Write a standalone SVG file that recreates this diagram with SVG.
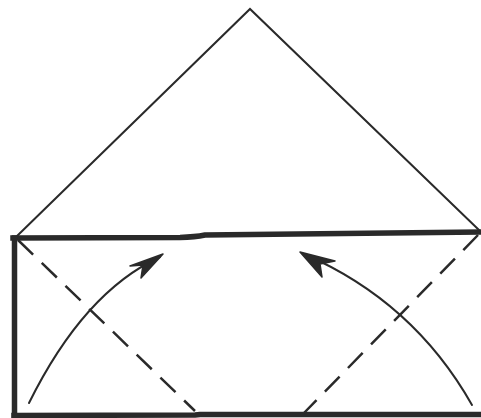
<svg xmlns="http://www.w3.org/2000/svg" width="481" height="418" viewBox="0 0 481 418">
<style>
.thin{fill:none;stroke:#2a2a2a;stroke-width:2;stroke-linejoin:miter}
.thick{fill:none;stroke:#2a2a2a;stroke-width:5.5;stroke-linecap:square;stroke-linejoin:round}
.dash{fill:none;stroke:#2a2a2a;stroke-width:2.5;stroke-dasharray:21 12}
.arc{fill:none;stroke:#2a2a2a;stroke-width:2;stroke-linecap:round}
.head{fill:#2a2a2a;stroke:#2a2a2a;stroke-width:1.5;stroke-linejoin:round}
</style>
<rect width="481" height="418" fill="#fff"/>
<g id="triangle">
<polyline class="thin" points="16,237 250,9 480,231"/>
</g>
<g id="rectangle">
<path class="thick" d="M13,238 L180,237.5 Q195,237 205,235 L480,232"/>
<line class="thick" x1="14.5" y1="238" x2="14.5" y2="418"/>
<polyline class="thick" points="14,415.5 195,415 200,414.5 481,414.5"/>
</g>
<g id="creases">
<line class="dash" x1="18" y1="240" x2="195" y2="411"/>
<line class="dash" x1="478" y1="235" x2="303" y2="414"/>
</g>
<g id="connectors">
<path class="arc" d="M29,403 Q84,292 160,257"/>
<polygon class="head" points="163,254 130,266 143,265 141,278"/>
<path class="arc" d="M472,405 Q413.5,301.5 304,254"/>
<polygon class="head" points="300,252 335,261 320,264 322,277"/>
</g>
</svg>
